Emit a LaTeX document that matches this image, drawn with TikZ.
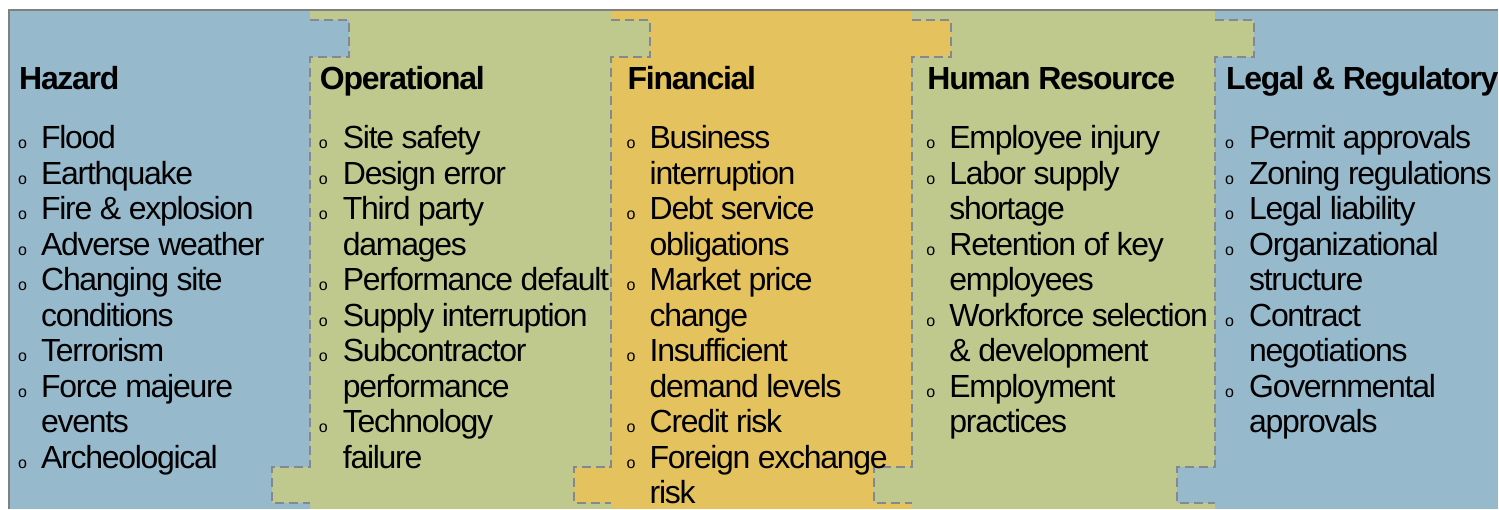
\documentclass[tikz,border=0pt]{standalone}
\usepackage{fontspec}
\setmainfont{Liberation Sans}[LetterSpace=-4]

\definecolor{hazblue}{RGB}{150,185,204}
\definecolor{opgreen}{RGB}{191,200,141}
\definecolor{finyellow}{RGB}{228,194,93}
\definecolor{seamgray}{RGB}{132,136,146}
\definecolor{framegray}{RGB}{128,128,128}

\tikzset{
  head/.style={font=\fontsize{32}{36}\selectfont\bfseries, anchor=base west, inner sep=0pt},
  item/.style={font=\fontsize{32}{36}\selectfont, anchor=base west, inner sep=0pt},
  bul/.style={font=\fontsize{16}{16}\selectfont, anchor=base west, inner sep=0pt},
  seam/.style={draw=seamgray, line width=2pt, dash pattern=on 9pt off 5pt},
}

\begin{document}
\begin{tikzpicture}[x=1pt,y=-1pt]
\fill[white] (0,0) rectangle (1499,509);

% columns
\fill[hazblue] (10,11) rectangle (310,509);
\fill[opgreen] (310,11) rectangle (612,509);
\fill[finyellow] (612,11) rectangle (913,509);
\fill[opgreen] (913,11) rectangle (1216,509);
\fill[hazblue] (1216,11) rectangle (1499,509);

% puzzle tabs and seams
\foreach \s/\l/\r in {310/hazblue/opgreen, 612/opgreen/finyellow, 913/finyellow/opgreen, 1216/opgreen/hazblue} {
	\fill[\l] (\s,20) rectangle ++(39,37);
	\fill[\r] (\s,467) rectangle ++(-38,36);
	\draw[seam] (\s,20) -- ++(39,0) -- ++(0,37) -- ++(-39,0) -- (\s,467) -- ++(-38,0) -- ++(0,36) -- ++(38,0);
}

\draw[framegray, line width=2.5pt] (9,509) -- (9,10) -- (1499,10);

% Hazard
\node[head] (haz) at (19,90) {Hazard};
\foreach \b/\t [count=\i] in {o/Flood, o/Earthquake, o/Fire \& explosion, o/Adverse weather, o/Changing site, /conditions, o/Terrorism, o/Force majeure, /events, o/Archeological} {
	\node[bul] (haz-o\i) at (18,{149+35.5*(\i-1)}) {\b};
	\node[item] (haz-\i) at (41,{149+35.5*(\i-1)}) {\t};
}

% Operational
\node[head] (op) at (320,90) {Operational};
\foreach \b/\t [count=\i] in {o/Site safety, o/Design error, o/Third party, /damages, o/Performance default, o/Supply interruption, o/Subcontractor, /performance, o/Technology, /failure} {
	\node[bul] (op-o\i) at (319,{149+35.5*(\i-1)}) {\b};
	\node[item] (op-\i) at (343,{149+35.5*(\i-1)}) {\t};
}

% Financial
\node[head] (fin) at (628,90) {Financial};
\foreach \b/\t [count=\i] in {o/Business, /interruption, o/Debt service, /obligations, o/Market price, /change, o/Insufficient, /demand levels, o/Credit risk, o/Foreign exchange, /risk} {
	\node[bul] (fin-o\i) at (627,{149+35.5*(\i-1)}) {\b};
	\node[item] (fin-\i) at (650,{149+35.5*(\i-1)}) {\t};
}

% Human Resource
\node[head] (hr) at (928,90) {Human Resource};
\foreach \b/\t [count=\i] in {o/Employee injury, o/Labor supply, /shortage, o/Retention of key, /employees, o/Workforce selection, /\& development, o/Employment, /practices} {
	\node[bul] (hr-o\i) at (927,{149+35.5*(\i-1)}) {\b};
	\node[item] (hr-\i) at (950,{149+35.5*(\i-1)}) {\t};
}

% Legal & Regulatory
\node[head] (leg) at (1227,90) {Legal \& Regulatory};
\foreach \b/\t [count=\i] in {o/Permit approvals, o/Zoning regulations, o/Legal liability, o/Organizational, /structure, o/Contract, /negotiations, o/Governmental, /approvals} {
	\node[bul] (leg-o\i) at (1226,{149+35.5*(\i-1)}) {\b};
	\node[item] (leg-\i) at (1250,{149+35.5*(\i-1)}) {\t};
}

\end{tikzpicture}
\end{document}
